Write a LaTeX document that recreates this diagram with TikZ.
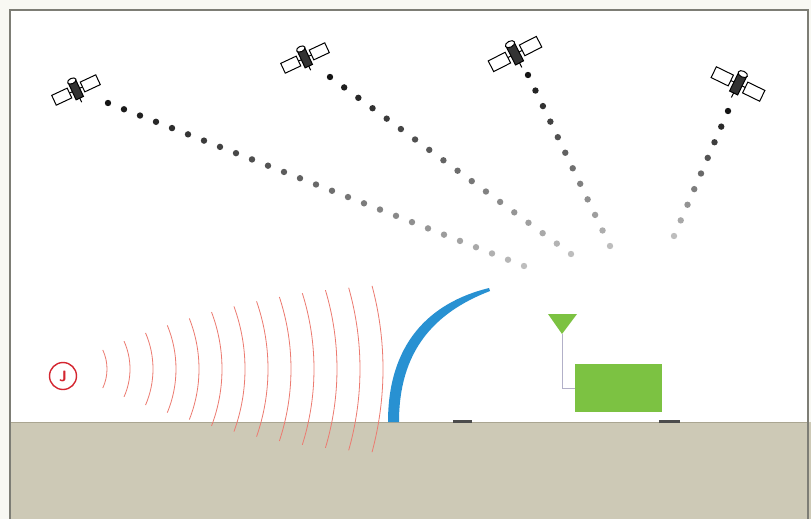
\documentclass[tikz,border=0pt]{standalone}
\usetikzlibrary{calc}

\definecolor{paper}{RGB}{248,248,243}
\definecolor{soil}{RGB}{205,201,182}
\definecolor{soilline}{RGB}{170,165,145}
\definecolor{frameg}{RGB}{125,125,117}
\definecolor{jamred}{RGB}{212,38,48}
\definecolor{wavered}{RGB}{236,122,112}
\definecolor{shield}{RGB}{40,145,210}
\definecolor{grass}{RGB}{124,194,66}
\definecolor{feedline}{RGB}{178,176,200}

\begin{document}
\begin{tikzpicture}
  [x=1pt,y=-1pt,
   satline/.style={line width=1pt,draw=black},
   sat/.pic={
     \draw[satline] (-20,0) -- (20,0);
     \draw[satline,fill=white] (-27,-6) rectangle (-8,6);
     \draw[satline,fill=white] (8,-6) rectangle (27,6);
     \draw[satline,fill=black!80] (-4.5,-10) rectangle (4.5,10);
     \draw[satline,fill=white] (0,-11) ellipse (5pt and 3pt);
     \draw[satline] (0,10) -- (0,15);
   },
   wave/.style={draw=wavered,line width=0.8pt},
   jammer/.style={circle,draw=jamred,line width=1.4pt,text=jamred,
      minimum size=27pt,inner sep=0pt,
      font=\sffamily\bfseries\fontsize{15}{15}\selectfont},
   rxbox/.style={fill=grass,minimum width=87pt,minimum height=48pt,
      inner sep=0pt},
   feed/.style={draw=feedline,line width=1pt},
   pad/.style={draw=gray!60!black,line width=3pt},
   frame/.style={draw=frameg,line width=2.5pt}]

  \useasboundingbox (0,0) rectangle (811,519);
  \fill[paper] (0,0) rectangle (811,519);
  \fill[white] (10,10) rectangle (808,422);

  % ground
  \fill[soil] (10,422) rectangle (811,519);
  \draw[soilline,line width=1pt] (10,422) -- (808,422);

  % satellites and where their signals start / fade out
  \coordinate (s1) at (76,90);
  \coordinate (s2) at (305,58);
  \coordinate (s3) at (515,54);
  \coordinate (s4) at (738,84);
  \coordinate (tx1) at (108,103);
  \coordinate (tx2) at (330,77);
  \coordinate (tx3) at (528,75);
  \coordinate (tx4) at (728,111);
  \coordinate (e1) at (524,266);
  \coordinate (e2) at (571,254);
  \coordinate (e3) at (610,246);
  \coordinate (e4) at (674,236);

  \pic[rotate=25,scale=0.9] at (s1) {sat};
  \pic[rotate=25,scale=0.9] at (s2) {sat};
  \pic[rotate=27] at (s3) {sat};
  \pic[rotate=-26] at (s4) {sat};

  % dotted signal paths, fading towards the ground
  \foreach \a/\b/\n in {tx1/e1/26,tx2/e2/17,tx3/e3/11,tx4/e4/8}{
    \foreach \i in {0,...,\n}{
      \pgfmathsetmacro\tone{92-66*\i/\n}
      \fill[black!\tone] ($(\a)!\i/\n!(\b)$) circle (3.2pt);
    }
  }

  % jammer and its waves
  \coordinate (src) at (62,369);
  \foreach \i in {0,...,12}{
    \pgfmathsetmacro\r{45+23*\i}
    \pgfmathsetmacro\ang{25-10*\i/12}
    \draw[wave] ($(src)+(-\ang:\r pt)$)
      arc[start angle=-\ang,end angle=\ang,radius=\r pt];
  }
  \node[jammer] (jam) at (63,376) {J};

  % shield
  \fill[shield] (388,422) .. controls (388,345) and (428,303) .. (489,288)
    -- (490,291) .. controls (433,313) and (399,352) .. (399,422) -- cycle;

  % receiver with antenna
  \node[rxbox] (rx) at (618.5,388) {};
  \coordinate (ant) at (562,334);
  \fill[grass] (548,314) -- (577,314) -- (ant) -- cycle;
  \draw[feed] (ant) |- (rx.west);

  \draw[pad] (453,421) -- (472,421);
  \draw[pad] (659,421) -- (680,421);

  % frame
  \draw[frame] (10,525) -- (10,10) -- (808,10) -- (808,525);
\end{tikzpicture}
\end{document}
